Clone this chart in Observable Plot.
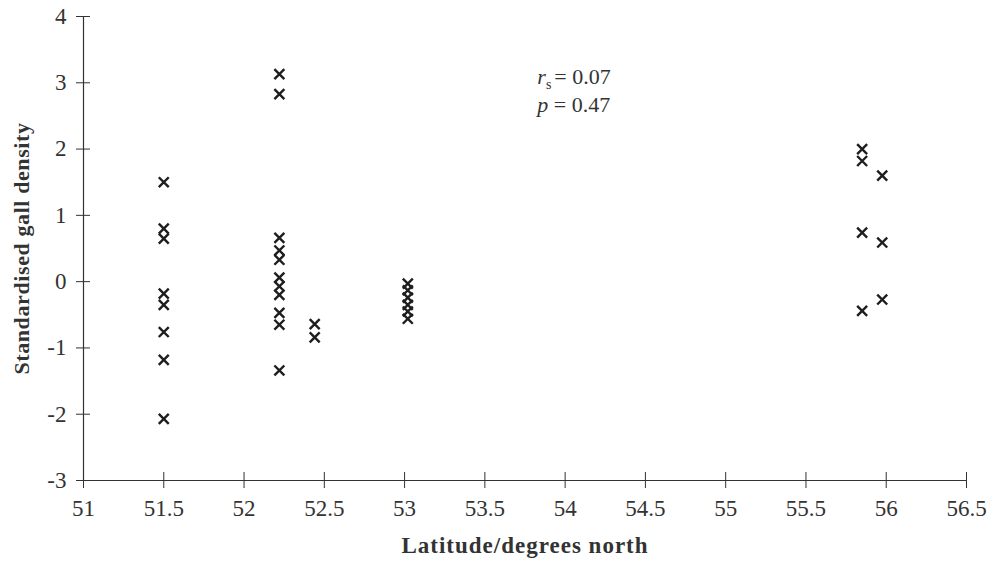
<!DOCTYPE html>
<html>
<head>
<meta charset="utf-8">
<script src="https://cdn.jsdelivr.net/npm/d3@7"></script>
<script src="https://cdn.jsdelivr.net/npm/@observablehq/plot@0.6"></script>
<style>
  html, body { margin: 0; padding: 0; background: #fff; }
  #chart svg { display: block; }
</style>
</head>
<body>
<div id="chart"></div>
<script>
// Latitude of each site (degrees north)
const siteLatitudes = [51.5, 52.22, 52.44, 53.02, 55.85, 55.975];
// Standardised gall density at each site
const site1Density = [1.5, 0.8, 0.65, -0.18, -0.35, -0.76, -1.18, -2.07];
const site2Density = [3.13, 2.83, 0.66, 0.47, 0.33, 0.06, -0.07, -0.2, -0.47, -0.65, -1.34];
const site3Density = [-0.64, -0.84];
const site4Density = [-0.03, -0.13, -0.24, -0.35, -0.45, -0.56];
const site5Density = [2.0, 1.82, 0.74, -0.44];
const site6Density = [1.6, 0.59, -0.27];
// Axis ticks
const xTicks = [51, 51.5, 52, 52.5, 53, 53.5, 54, 54.5, 55, 55.5, 56, 56.5];
const yTicks = [-3, -2, -1, 0, 1, 2, 3, 4];
// Statistics annotation
const statRs = "0.07";
const statP = "0.47";

const allDensities = [site1Density, site2Density, site3Density, site4Density, site5Density, site6Density];
const points = allDensities.flatMap((arr, i) => arr.map(v => ({lat: siteLatitudes[i], density: v})));

const W = 1000, H = 573, mL = 83, mR = 34, mT = 16, mB = 93;
const frameW = W - mL - mR, frameH = H - mT - mB;
const ink = "#333";
const serif = "'Liberation Serif', 'DejaVu Serif', serif";

const plot = Plot.plot({
  width: W, height: H,
  marginLeft: mL, marginRight: mR, marginTop: mT, marginBottom: mB,
  style: {fontFamily: serif, background: "#fff", color: ink},
  x: {domain: [51, 56.5]},
  y: {domain: [-3, 4]},
  marks: [
    Plot.axisX(xTicks, {tickSize: 0, tickPadding: 19, fontSize: 23, label: null, tickFormat: d => String(d), fill: ink}),
    Plot.axisY(yTicks, {tickSize: 0, tickPadding: 17, fontSize: 23, label: null, tickFormat: d => String(d), fill: ink}),
    Plot.ruleX([51], {stroke: ink, strokeWidth: 1.2}),
    Plot.ruleY([-3], {stroke: ink, strokeWidth: 1.2}),
    Plot.tickX(xTicks, {x: d => d, stroke: ink, insetTop: frameH - 8, insetBottom: -8}),
    Plot.tickY(yTicks, {y: d => d, stroke: ink, insetLeft: -7, insetRight: frameW - 7}),
    Plot.dot(points, {x: "lat", y: "density", symbol: "times", r: 4.6, stroke: "#1e1e1e", strokeWidth: 2.4}),
    Plot.text(["Latitude/degrees north"], {frameAnchor: "bottom", textAnchor: "middle", dy: 72, fontWeight: "bold", fontSize: 23, fill: ink}),
    Plot.text(["Standardised gall density"], {frameAnchor: "left", textAnchor: "middle", dx: -62, rotate: -90, fontWeight: "bold", fontSize: 22, fill: ink})
  ]
});

document.getElementById("chart").appendChild(plot);

// text marks: apply letter spacing
plot.querySelectorAll("text").forEach(t => {
  if (t.textContent === "Latitude/degrees north") t.setAttribute("letter-spacing", "1");
  if (t.textContent === "Standardised gall density") t.setAttribute("letter-spacing", "0.6");
});

// Annotation with subscript, positioned through the plot's scales
const sx = plot.scale("x"), sy = plot.scale("y");
const ns = "http://www.w3.org/2000/svg";
function addLine(sym, sub, value, xv, yv) {
  const t = document.createElementNS(ns, "text");
  t.setAttribute("x", sx.apply(xv));
  t.setAttribute("y", sy.apply(yv));
  t.setAttribute("text-anchor", "start");
  t.setAttribute("font-family", serif);
  t.setAttribute("font-size", "22");
  t.setAttribute("fill", ink);
  const a = document.createElementNS(ns, "tspan");
  a.setAttribute("font-style", "italic");
  a.textContent = sym;
  t.appendChild(a);
  if (sub) {
    const b = document.createElementNS(ns, "tspan");
    b.setAttribute("font-size", "14");
    b.setAttribute("dy", "5");
    b.textContent = sub;
    t.appendChild(b);
    const c = document.createElementNS(ns, "tspan");
    c.setAttribute("dy", "-5");
    c.setAttribute("dx", "3");
    c.textContent = "= " + value;
    t.appendChild(c);
  } else {
    const c = document.createElementNS(ns, "tspan");
    c.textContent = " = " + value;
    t.appendChild(c);
  }
  plot.appendChild(t);
}
addLine("r", "s", statRs, 53.83, 2.98);
addLine("p", null, statP, 53.83, 2.55);
</script>
</body>
</html>
